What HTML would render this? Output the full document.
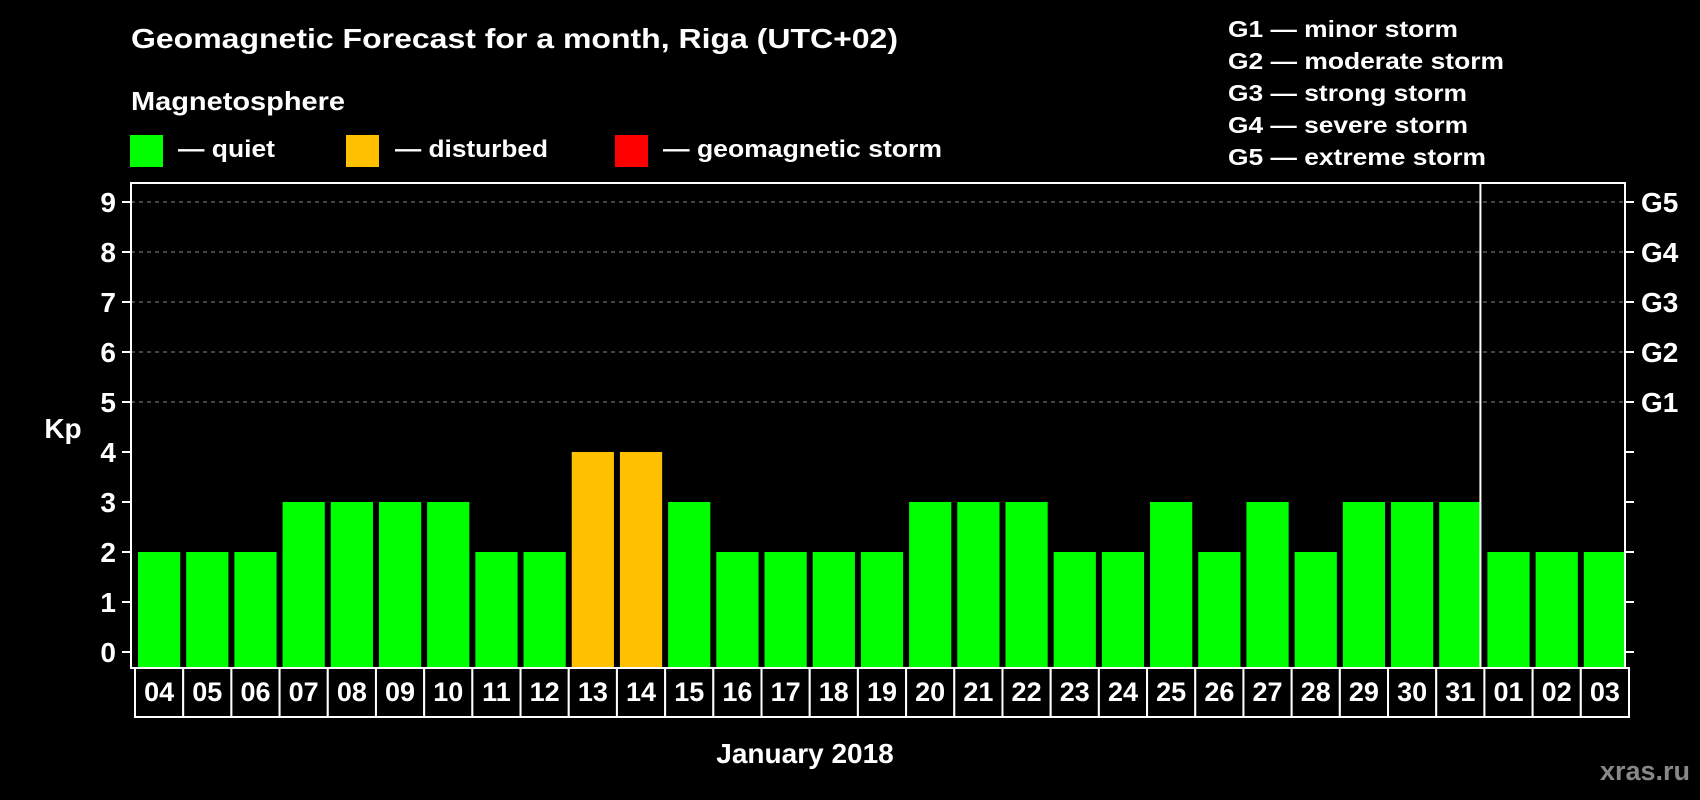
<!DOCTYPE html>
<html><head><meta charset="utf-8"><style>
html,body{margin:0;padding:0;background:#000;}
svg{display:block;font-family:"Liberation Sans",Arial,sans-serif;font-weight:bold;}
</style></head><body>
<svg id="chart" width="1700" height="800" viewBox="0 0 1700 800" xmlns="http://www.w3.org/2000/svg">
<rect x="0" y="0" width="1700" height="800" fill="#000"/>
<text x="131" y="48" font-size="28" fill="#fff" textLength="767" lengthAdjust="spacingAndGlyphs">Geomagnetic Forecast for a month, Riga (UTC+02)</text>
<text x="131" y="110" font-size="26" fill="#fff" textLength="214" lengthAdjust="spacingAndGlyphs">Magnetosphere</text>
<g>
<rect x="130" y="135" width="33" height="32" fill="#00ff00"/>
<text x="178" y="157" font-size="24" fill="#fff" textLength="97" lengthAdjust="spacingAndGlyphs">— quiet</text></g>
<g>
<rect x="346" y="135" width="33" height="32" fill="#ffc000"/>
<text x="395" y="157" font-size="24" fill="#fff" textLength="153" lengthAdjust="spacingAndGlyphs">— disturbed</text></g>
<g>
<rect x="615" y="135" width="33" height="32" fill="#ff0000"/>
<text x="663" y="157" font-size="24" fill="#fff" textLength="279" lengthAdjust="spacingAndGlyphs">— geomagnetic storm</text></g>
<g font-size="23" fill="#fff">
<text x="1228" y="37" textLength="230" lengthAdjust="spacingAndGlyphs">G1 — minor storm</text>
<text x="1228" y="69" textLength="276" lengthAdjust="spacingAndGlyphs">G2 — moderate storm</text>
<text x="1228" y="101" textLength="239" lengthAdjust="spacingAndGlyphs">G3 — strong storm</text>
<text x="1228" y="133" textLength="240" lengthAdjust="spacingAndGlyphs">G4 — severe storm</text>
<text x="1228" y="165" textLength="258" lengthAdjust="spacingAndGlyphs">G5 — extreme storm</text>
</g>
<g id="grid"></g>
<g id="bars"></g>
<rect x="131" y="183" width="1494" height="485" fill="none" stroke="#fff" stroke-width="2"/>
<g id="axes"></g>
<text x="63" y="438" font-size="28" fill="#fff" text-anchor="middle">Kp</text>
<text x="805" y="763" font-size="28" fill="#fff" text-anchor="middle">January 2018</text>
<text x="1690" y="780" font-size="27" fill="#888" text-anchor="end">xras.ru</text>
</svg>
<script>
const days = ["04","05","06","07","08","09","10","11","12","13","14","15","16","17","18","19","20","21","22","23","24","25","26","27","28","29","30","31","01","02","03"];
const kpValues = [2,2,2,3,3,3,3,2,2,4,4,3,2,2,2,2,3,3,3,2,2,3,2,3,2,3,3,3,2,2,2];
const yTicks = [0,1,2,3,4,5,6,7,8,9];
const gLabels = ["G1","G2","G3","G4","G5"];
const gLevels = [5,6,7,8,9];
const monthBreakIndex = 28;

const NS = "http://www.w3.org/2000/svg";
const plotL = 131, plotR = 1625, plotB = 668;
const pitch = (plotR - plotL) / days.length;
function yScale(v){ return 652 - 50 * v; }
function xScale(i){ return plotL + pitch * i; }
function colorFor(v){ return v >= 5 ? "#ff0000" : (v >= 4 ? "#ffc000" : "#00ff00"); }
function mk(tag, attrs, parent){ const e = document.createElementNS(NS, tag); for (const k in attrs) e.setAttribute(k, attrs[k]); parent.appendChild(e); return e; }

const grid = document.getElementById("grid");
const bars = document.getElementById("bars");
const axes = document.getElementById("axes");

gLevels.forEach(function(v){
  const l = mk("line", {x1: plotL, x2: plotR, y1: yScale(v), y2: yScale(v), stroke: "#888", "stroke-width": 1, "stroke-dasharray": "4,4"}, grid);
  
  
});

kpValues.forEach(function(v, i){
  const r = mk("rect", {x: xScale(i) + 7, y: yScale(v), width: pitch - 6, height: plotB - yScale(v), fill: colorFor(v)}, bars);
  
  
});

const divider = mk("line", {x1: xScale(monthBreakIndex), x2: xScale(monthBreakIndex), y1: 183, y2: plotB, stroke: "#fff", "stroke-width": 2}, axes);



yTicks.forEach(function(v){
  const y = yScale(v);
  const t1 = mk("line", {x1: 122, x2: plotL, y1: y, y2: y, stroke: "#fff", "stroke-width": 2}, axes);
  
  
  const t2 = mk("line", {x1: plotR, x2: 1634, y1: y, y2: y, stroke: "#fff", "stroke-width": 2}, axes);
  
  
  const tx = mk("text", {x: 116, y: y + 10, "font-size": 28, fill: "#fff", "text-anchor": "end"}, axes);
  tx.textContent = String(v);
  
  
});

gLabels.forEach(function(g, i){
  const tx = mk("text", {x: 1641, y: yScale(gLevels[i]) + 10, "font-size": 28, fill: "#fff"}, axes);
  tx.textContent = g;
  
  
});

const boxL = 135;
days.forEach(function(d, i){
  const x = boxL + pitch * i;
  const b = mk("rect", {x: x, y: plotB, width: pitch, height: 49, fill: "#000", stroke: "#fff", "stroke-width": 2}, axes);
  
  
  const tx = mk("text", {x: x + pitch / 2, y: 701, "font-size": 27, fill: "#fff", "text-anchor": "middle"}, axes);
  tx.textContent = d;
  
  
});
</script>
</body></html>
